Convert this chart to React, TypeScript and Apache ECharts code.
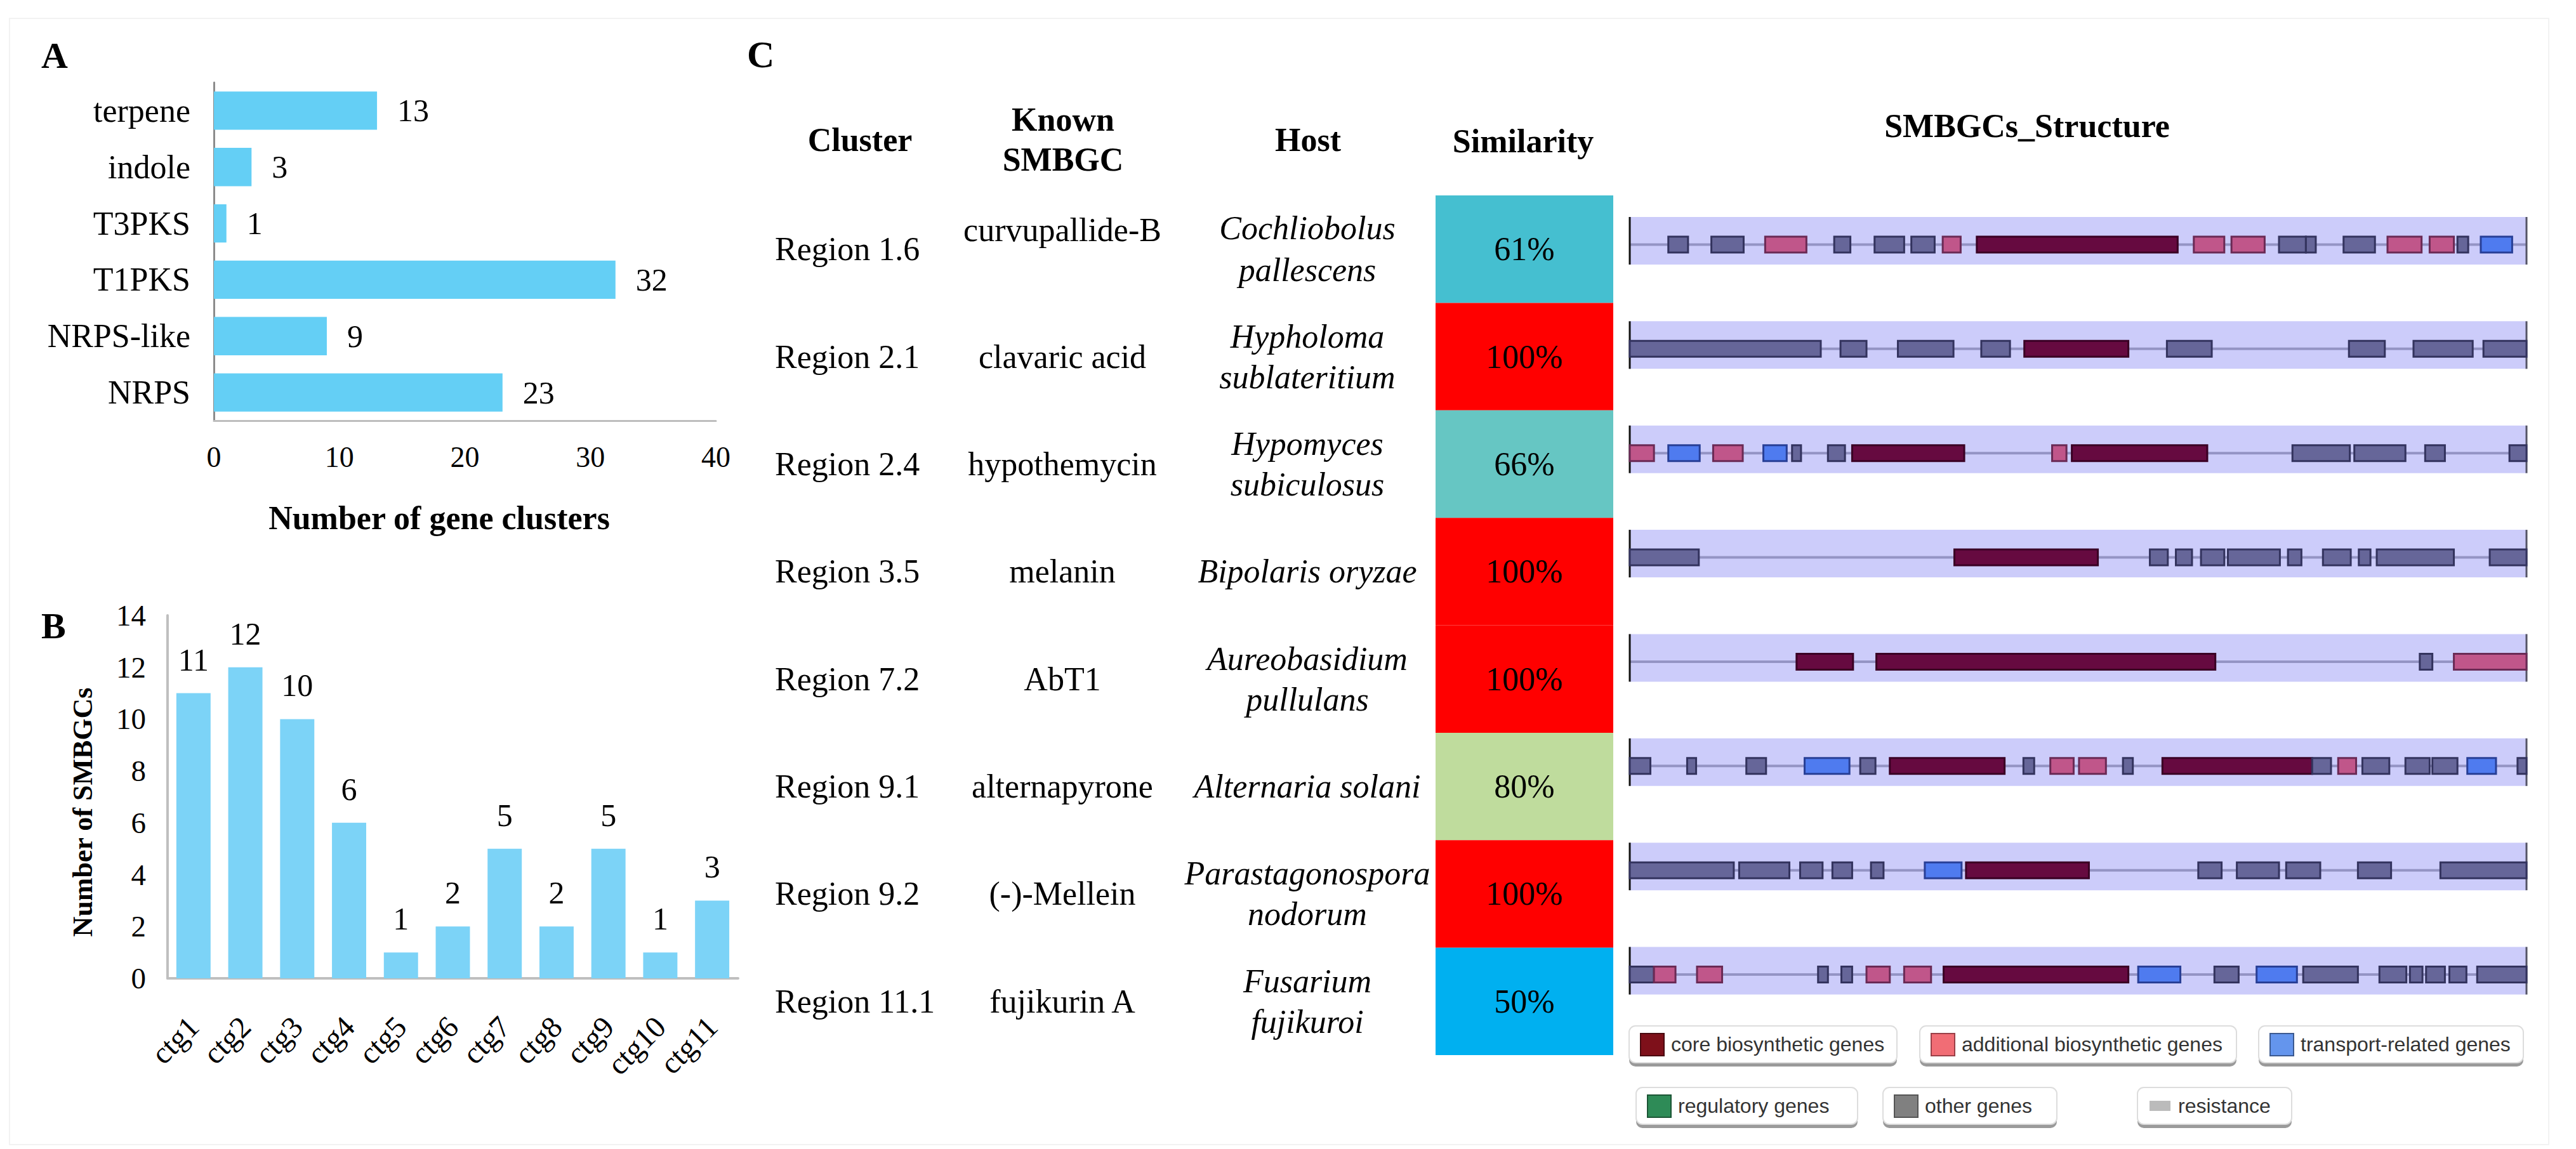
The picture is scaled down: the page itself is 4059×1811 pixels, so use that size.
import React, { useEffect, useRef } from 'react';
import * as echarts from 'echarts';

const W = 4059;
const H = 1811;
const SERIF = 'Liberation Serif, Times New Roman, serif';
const SANS = 'Liberation Sans, Arial, sans-serif';

// ---------- Panel A ----------
const bgcTypes = ['terpene', 'indole', 'T3PKS', 'T1PKS', 'NRPS-like', 'NRPS'];
const bgcCounts = [13, 3, 1, 32, 9, 23];

// ---------- Panel B ----------
const contigs = ['ctg1', 'ctg2', 'ctg3', 'ctg4', 'ctg5', 'ctg6', 'ctg7', 'ctg8', 'ctg9', 'ctg10', 'ctg11'];
const smbgcCounts = [11, 12, 10, 6, 1, 2, 5, 2, 5, 1, 3];

// ---------- Panel C ----------
const clusters = ['Region 1.6', 'Region 2.1', 'Region 2.4', 'Region 3.5', 'Region 7.2', 'Region 9.1', 'Region 9.2', 'Region 11.1'];
const knownSmbgc = ['curvupallide-B', 'clavaric acid', 'hypothemycin', 'melanin', 'AbT1', 'alternapyrone', '(-)-Mellein', 'fujikurin A'];
const hosts = [
  ['Cochliobolus', 'pallescens'],
  ['Hypholoma', 'sublateritium'],
  ['Hypomyces', 'subiculosus'],
  ['Bipolaris oryzae'],
  ['Aureobasidium', 'pullulans'],
  ['Alternaria solani'],
  ['Parastagonospora', 'nodorum'],
  ['Fusarium', 'fujikuroi'],
];
const similarity = [61, 100, 66, 100, 100, 80, 100, 50];

// gene positions as % of region length: [start, end, type]
const region16Genes = [[4.3, 6.5, 'other'], [9.1, 12.7, 'other'], [15.1, 19.7, 'add'], [22.8, 24.6, 'other'], [27.3, 30.6, 'other'], [31.4, 34.0, 'other'], [34.9, 36.9, 'add'], [38.7, 61.1, 'core'], [62.9, 66.3, 'add'], [67.1, 70.8, 'add'], [72.4, 75.4, 'other'], [75.4, 76.5, 'other'], [79.6, 83.1, 'other'], [84.5, 88.3, 'add'], [89.2, 91.9, 'add'], [92.3, 93.5, 'other'], [94.9, 98.4, 'trans']];
const region21Genes = [[0, 21.3, 'other'], [23.5, 26.4, 'other'], [29.9, 36.1, 'other'], [39.2, 42.4, 'other'], [44.0, 55.6, 'core'], [59.9, 64.9, 'other'], [80.2, 84.2, 'other'], [87.4, 94.0, 'other'], [95.2, 100, 'other']];
const region24Genes = [[0, 2.7, 'add'], [4.3, 7.8, 'trans'], [9.3, 12.6, 'add'], [14.9, 17.5, 'trans'], [18.1, 19.1, 'other'], [22.1, 24.0, 'other'], [24.8, 37.3, 'core'], [47.1, 48.7, 'add'], [49.3, 64.4, 'core'], [73.9, 80.3, 'other'], [80.8, 86.5, 'other'], [88.7, 90.9, 'other'], [98.1, 100, 'other']];
const region35Genes = [[0, 7.7, 'other'], [36.2, 52.2, 'core'], [58.0, 60.0, 'other'], [60.9, 62.7, 'other'], [63.7, 66.3, 'other'], [66.7, 72.5, 'other'], [73.4, 74.9, 'other'], [77.3, 80.4, 'other'], [81.3, 82.6, 'other'], [83.3, 91.9, 'other'], [95.9, 100, 'other']];
const region72Genes = [[18.6, 24.9, 'core'], [27.5, 65.3, 'core'], [88.1, 89.5, 'other'], [91.9, 100, 'add']];
const region91Genes = [[0, 2.3, 'other'], [6.4, 7.4, 'other'], [13.0, 15.2, 'other'], [19.5, 24.5, 'trans'], [25.7, 27.4, 'other'], [29.0, 41.8, 'core'], [43.9, 45.1, 'other'], [46.9, 49.5, 'add'], [50.1, 53.1, 'add'], [55.0, 56.1, 'other'], [59.4, 76.1, 'core'], [76.1, 78.2, 'other'], [79.0, 81.0, 'add'], [81.7, 84.7, 'other'], [86.5, 89.2, 'other'], [89.5, 92.3, 'other'], [93.4, 96.6, 'trans'], [99.0, 100, 'other']];
const region92Genes = [[0, 11.6, 'other'], [12.2, 17.8, 'other'], [19.0, 21.5, 'other'], [22.6, 24.8, 'other'], [26.9, 28.3, 'other'], [32.9, 37.0, 'trans'], [37.5, 51.2, 'core'], [63.4, 66.0, 'other'], [67.7, 72.4, 'other'], [73.2, 77.0, 'other'], [81.2, 84.9, 'other'], [90.4, 100, 'other']];
const region111Genes = [[0, 2.7, 'other'], [2.7, 5.1, 'add'], [7.5, 10.3, 'add'], [21.0, 22.1, 'other'], [23.6, 24.8, 'other'], [26.4, 29.0, 'add'], [30.6, 33.6, 'add'], [35.0, 55.6, 'core'], [56.7, 61.4, 'trans'], [65.2, 67.9, 'other'], [69.9, 74.4, 'trans'], [75.1, 81.2, 'other'], [83.6, 86.6, 'other'], [87.0, 88.4, 'other'], [88.8, 90.9, 'other'], [91.4, 93.3, 'other'], [94.5, 100, 'other']];
const regionGenes = [region16Genes, region21Genes, region24Genes, region35Genes, region72Genes, region91Genes, region92Genes, region111Genes];

const legendNames = ['core biosynthetic genes', 'additional biosynthetic genes', 'transport-related genes', 'regulatory genes', 'other genes', 'resistance'];

// ---------- styles ----------
const simColor: Record<number, string> = { 61: '#45BFD0', 66: '#66C6C3', 80: '#BFDC9D', 100: '#FF0000', 50: '#00B0F0' };
const geneStyle: Record<string, [string, string]> = {
  core: ['#660A40', '#3A0024'],
  add: ['#C0568A', '#6A2A55'],
  trans: ['#4F7BEF', '#283F96'],
  other: ['#666699', '#33335E'],
};
const legendStyle = [
  { x0: 2567, x1: 2989, y: 1617, color: '#7E101A', stroke: '#4a0a10' },
  { x0: 3025, x1: 3524, y: 1617, color: '#F16D75', stroke: '#9a4048' },
  { x0: 3559, x1: 3976, y: 1617, color: '#6495ED', stroke: '#3c5a90' },
  { x0: 2578, x1: 2927, y: 1714, color: '#2E8B57', stroke: '#1c5535' },
  { x0: 2967, x1: 3241, y: 1714, color: '#808080', stroke: '#555555' },
  { x0: 3368, x1: 3611, y: 1714, color: '#BBBBBB', stroke: '#BBBBBB', small: true },
];

const CLUSTER_X = 1221;
const KNOWN_X = 1674;
const HOST_X = 2060;
const BODY_FONT = 52;
const BAND_H = 75;
const GENE_DY = 6;
const GENE_H = 25;

function txt(x: number, y: number, text: string, opts: any = {}) {
  return {
    type: 'text',
    x,
    y,
    style: {
      text,
      fill: opts.fill || '#000',
      fontFamily: opts.fontFamily || SERIF,
      fontSize: opts.fontSize || BODY_FONT,
      fontWeight: opts.fontWeight || 'normal',
      fontStyle: opts.fontStyle || 'normal',
      align: opts.align || 'center',
      verticalAlign: 'middle',
    },
    rotation: opts.rotation || 0,
  };
}

export default function App() {
  const ref = useRef<HTMLDivElement>(null);

  useEffect(() => {
    if (!ref.current) return;
    const chart = echarts.init(ref.current, undefined, { renderer: 'svg', width: W, height: H });

    const geneData: any[] = [];
    const geneTypes: string[] = [];
    regionGenes.forEach((genes, row) => {
      genes.forEach((g: any) => {
        geneData.push([row, g[0], g[1]]);
        geneTypes.push(g[2]);
      });
    });

    const legendGraphics: any[] = [];
    legendNames.forEach((name, i) => {
      const s: any = legendStyle[i];
      const w = s.x1 - s.x0;
      const cy = s.y + 29;
      legendGraphics.push({ type: 'rect', shape: { x: s.x0, y: s.y + 6, width: w, height: 58, r: 10 }, style: { fill: '#9a9a9a' } });
      legendGraphics.push({ type: 'rect', shape: { x: s.x0, y: s.y, width: w, height: 58, r: 10 }, style: { fill: '#ffffff', stroke: '#dddddd', lineWidth: 2 } });
      if (s.small) {
        legendGraphics.push({ type: 'rect', shape: { x: s.x0 + 19, y: cy - 8, width: 33, height: 16 }, style: { fill: s.color } });
      } else {
        legendGraphics.push({ type: 'rect', shape: { x: s.x0 + 18, y: cy - 17, width: 37, height: 35 }, style: { fill: s.color, stroke: s.stroke, lineWidth: 2 } });
      }
      legendGraphics.push(txt(s.x0 + (s.small ? 64 : 66), cy, name, { fontFamily: SANS, fontSize: 32, align: 'left', fill: '#333333' }));
    });

    const axisFont = { fontFamily: SERIF, color: '#000' };

    const option: any = {
      animation: false,
      backgroundColor: '#ffffff',
      textStyle: { fontFamily: SERIF, color: '#000' },
      grid: [
        { left: 337, top: 130, width: 791, height: 533 },
        { left: 264, top: 970, width: 899, height: 572 },
        { left: 2262, top: 308, width: 280, height: 1355 },
        { left: 2568, top: 297.3, width: 1413, height: 1314.9 },
      ],
      xAxis: [
        {
          gridIndex: 0, type: 'value', min: 0, max: 40, interval: 10,
          axisLine: { show: true, lineStyle: { color: '#BDBDBD', width: 3 } },
          axisTick: { show: false }, splitLine: { show: false },
          axisLabel: { fontSize: 46, margin: 34, ...axisFont },
        },
        {
          gridIndex: 1, type: 'category', data: contigs,
          axisLine: { show: true, lineStyle: { color: '#BFBFBF', width: 4 } },
          axisTick: { show: false },
          axisLabel: { rotate: 45, interval: 0, fontSize: 48, margin: 68, ...axisFont },
        },
        { gridIndex: 2, type: 'category', data: ['Similarity'], show: false },
        { gridIndex: 3, type: 'value', min: 0, max: 100, show: false },
      ],
      yAxis: [
        {
          gridIndex: 0, type: 'category', data: bgcTypes, inverse: true,
          axisLine: { show: true, lineStyle: { color: '#8C8C8C', width: 3 } },
          axisTick: { show: false },
          axisLabel: { fontSize: 52, margin: 37, ...axisFont },
        },
        {
          gridIndex: 1, type: 'value', min: 0, max: 14, interval: 2,
          axisLine: { show: true, lineStyle: { color: '#BFBFBF', width: 4 } },
          axisTick: { show: false }, splitLine: { show: false },
          axisLabel: { fontSize: 47, margin: 34, ...axisFont },
        },
        { gridIndex: 2, type: 'category', data: clusters, inverse: true, show: false },
        { gridIndex: 3, type: 'category', data: clusters, inverse: true, show: false },
      ],
      series: [
        {
          type: 'bar', xAxisIndex: 0, yAxisIndex: 0, data: bgcCounts, barWidth: '68%',
          itemStyle: { color: '#64CFF5' },
          label: { show: true, position: 'right', distance: 32, fontSize: 50, ...axisFont },
        },
        {
          type: 'bar', xAxisIndex: 1, yAxisIndex: 1, data: smbgcCounts, barWidth: '66%',
          itemStyle: { color: '#7CD3F7' },
          label: { show: true, position: 'top', distance: 28, fontSize: 50, ...axisFont },
        },
        {
          type: 'custom', xAxisIndex: 2, yAxisIndex: 2,
          data: similarity.map((v, i) => [0, i, v]),
          encode: { x: 0, y: 1 },
          renderItem: (params: any, api: any) => {
            const i = api.value(1);
            const v = api.value(2);
            const c = api.coord([0, i]);
            const sz = api.size([1, 1]);
            return {
              type: 'group',
              children: [
                { type: 'rect', shape: { x: c[0] - sz[0] / 2, y: c[1] - sz[1] / 2, width: sz[0], height: sz[1] }, style: { fill: simColor[v] || '#ccc' } },
                txt(c[0], c[1], v + '%'),
              ],
            };
          },
        },
        {
          type: 'custom', xAxisIndex: 2, yAxisIndex: 2,
          data: clusters.map((_, i) => [0, i]),
          encode: { x: 0, y: 1 },
          renderItem: (params: any, api: any) => {
            const i = api.value(1);
            const y = api.coord([0, i])[1];
            const h = hosts[i];
            const children: any[] = [
              txt(CLUSTER_X, y, clusters[i], { align: 'left' }),
              txt(KNOWN_X, y + (i === 0 ? -30 : 0), knownSmbgc[i]),
            ];
            if (h.length === 1) {
              children.push(txt(HOST_X, y, h[0], { fontStyle: 'italic' }));
            } else {
              const d = i === 0 ? 33 : 32;
              children.push(txt(HOST_X, y - d, h[0], { fontStyle: 'italic' }));
              children.push(txt(HOST_X, y + d, h[1], { fontStyle: 'italic' }));
            }
            return { type: 'group', children };
          },
        },
        {
          type: 'custom', xAxisIndex: 3, yAxisIndex: 3,
          data: clusters.map((_, i) => [i, 0, 100]),
          encode: { x: [1, 2], y: 0 },
          renderItem: (params: any, api: any) => {
            const row = api.value(0);
            const p1 = api.coord([api.value(1), row]);
            const p2 = api.coord([api.value(2), row]);
            const top = p1[1] - BAND_H / 2;
            return {
              type: 'group',
              children: [
                { type: 'rect', shape: { x: p1[0], y: top, width: p2[0] - p1[0], height: BAND_H }, style: { fill: '#CCCCFA' } },
                { type: 'line', shape: { x1: p1[0], y1: p1[1] + GENE_DY, x2: p2[0], y2: p1[1] + GENE_DY }, style: { stroke: '#9494C4', lineWidth: 4 } },
                { type: 'line', shape: { x1: p1[0], y1: top, x2: p1[0], y2: top + BAND_H }, style: { stroke: '#111111', lineWidth: 3 } },
                { type: 'line', shape: { x1: p2[0], y1: top, x2: p2[0], y2: top + BAND_H }, style: { stroke: '#555566', lineWidth: 3 } },
              ],
            };
          },
        },
        {
          type: 'custom', xAxisIndex: 3, yAxisIndex: 3,
          data: geneData,
          encode: { x: [1, 2], y: 0 },
          renderItem: (params: any, api: any) => {
            const row = api.value(0);
            const p1 = api.coord([api.value(1), row]);
            const p2 = api.coord([api.value(2), row]);
            const st = geneStyle[geneTypes[params.dataIndex]];
            return {
              type: 'rect',
              shape: { x: p1[0], y: p1[1] + GENE_DY - GENE_H / 2, width: p2[0] - p1[0], height: GENE_H },
              style: { fill: st[0], stroke: st[1], lineWidth: 3 },
            };
          },
        },
      ],
      graphic: [
        { type: 'rect', shape: { x: 15, y: 29, width: 4001, height: 1775 }, style: { fill: 'none', stroke: '#F2F2F2', lineWidth: 2 }, silent: true },
        txt(65, 87, 'A', { fontWeight: 'bold', fontSize: 58, align: 'left' }),
        txt(65, 986, 'B', { fontWeight: 'bold', fontSize: 58, align: 'left' }),
        txt(1177, 86, 'C', { fontWeight: 'bold', fontSize: 60, align: 'left' }),
        txt(692, 816, 'Number of gene clusters', { fontWeight: 'bold', fontSize: 52 }),
        txt(130, 1280, 'Number of SMBGCs', { fontWeight: 'bold', fontSize: 44, rotation: Math.PI / 2 }),
        txt(1355, 220, 'Cluster', { fontWeight: 'bold' }),
        txt(1675, 188, 'Known', { fontWeight: 'bold' }),
        txt(1675, 251, 'SMBGC', { fontWeight: 'bold' }),
        txt(2061, 220, 'Host', { fontWeight: 'bold' }),
        txt(2400, 222, 'Similarity', { fontWeight: 'bold' }),
        txt(3194, 198, 'SMBGCs_Structure', { fontWeight: 'bold' }),
        ...legendGraphics,
      ],
    };

    chart.setOption(option);
    return () => chart.dispose();
  }, []);

  return <div ref={ref} style={{ position: 'absolute', left: 0, top: 0, width: W, height: H, background: '#fff' }} />;
}
